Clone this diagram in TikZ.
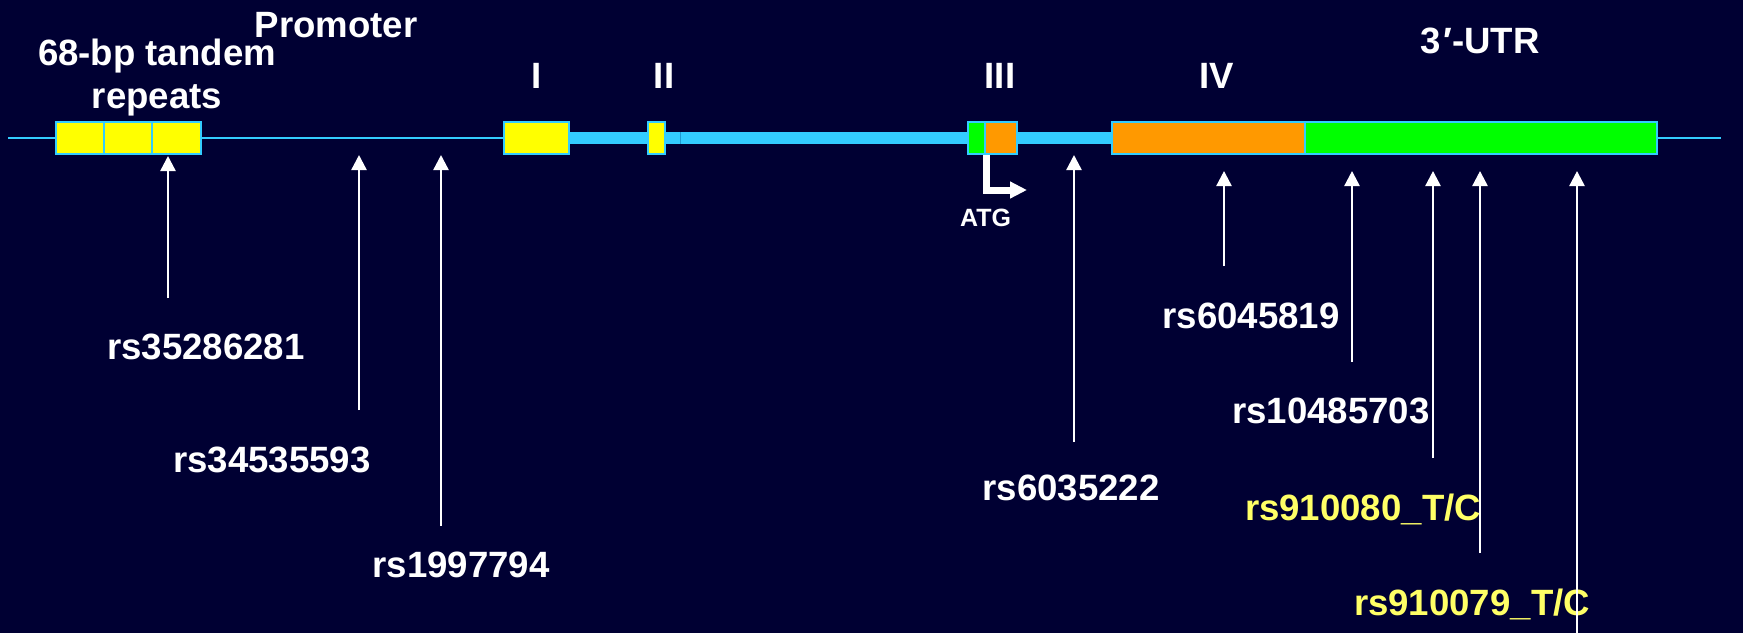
\documentclass[tikz,border=0pt]{standalone}
\usepackage{fontspec}
\setmainfont{Liberation Sans}
\usetikzlibrary{arrows.meta}
\definecolor{bg}{HTML}{000033}
\definecolor{dna}{HTML}{33CCFF}
\definecolor{exy}{HTML}{FFFF00}
\definecolor{exg}{HTML}{00FF00}
\definecolor{exo}{HTML}{FF9900}
\definecolor{snpy}{HTML}{FFFF66}
\definecolor{tickc}{HTML}{1F9AD0}
\begin{document}
\begin{tikzpicture}[x=0.5pt,y=-0.5pt,
  lbl/.style={text=white,font=\bfseries\fontsize{18.3}{21.5}\selectfont,inner sep=0pt,anchor=base},
  ylbl/.style={lbl,text=snpy},
  exonbox/.style={draw=dna,line width=1.25pt},
  snp/.style={draw=white,line width=1.2pt,-{Triangle[length=7.5pt,width=7.5pt]}},
  atgarrow/.style={draw=white,line width=3.5pt,-{Triangle[length=8.5pt,width=8pt]}},
]
\fill[bg] (0,0) rectangle (1743,633);
\useasboundingbox (0,0) rectangle (1743,633);
% backbone
\draw[dna,line width=1pt] (8,138.3) -- (1721,138.3);
\fill[dna] (569,132.4) rectangle (1112,144.3);
\draw[tickc,line width=0.5pt] (680,132.4) -- (680,144.3);
% tandem repeats
\draw[exonbox,fill=exy] (56,122) rectangle (201,154);
\draw[dna,line width=1pt] (104,122) -- (104,154) (152,122) -- (152,154);
% exon I, II
\draw[exonbox,fill=exy] (504,122) rectangle (569,154);
\draw[exonbox,fill=exy] (648,122) rectangle (665,154);
% exon III
\fill[exg] (968,122) rectangle (985,154);
\fill[exo] (985,122) rectangle (1017,154);
\draw[exonbox] (968,122) rectangle (1017,154);
\draw[dna,line width=1pt] (985,122) -- (985,154);
% exon IV + UTR
\fill[exo] (1112,122) rectangle (1305,154);
\fill[exg] (1305,122) rectangle (1657,154);
\draw[exonbox] (1112,122) rectangle (1657,154);
\draw[dna,line width=1pt] (1305,122) -- (1305,154);
% ATG arrow
\coordinate (atgS) at (986,155);
\coordinate (atgC) at (986,190);
\coordinate (atgE) at (1027,190);
\draw[atgarrow] (atgS) -- (atgC) -- (atgE);
\node[lbl,font=\bfseries\fontsize{12.5}{15}\selectfont] (atg) at (985.5,226) {ATG};
% region labels
\node[lbl] (prom) at (336,37) {Promoter};
\node[lbl,align=center,anchor=north] (tandem) at (157,39) {68-bp tandem\\repeats};
\node[lbl] (e1) at (537,88) {I};
\node[lbl] (e2) at (664,88) {II};
\node[lbl] (e3) at (1000,88) {III};
\node[lbl] (e4) at (1217,88) {IV};
\node[lbl] (utr) at (1480,53) {3\kern1.5pt′-UTR};
% SNP labels
\node[lbl] (s1) at (206,359) {rs35286281};
\node[lbl] (s2) at (272,472) {rs34535593};
\node[lbl] (s3) at (461,577) {rs1997794};
\node[lbl] (s4) at (1071,500) {rs6035222};
\node[lbl] (s5) at (1251,328) {rs6045819};
\node[lbl] (s6) at (1331,423) {rs10485703};
\node[ylbl] (s7) at (1363,520) {rs910080\_T/C};
\node[ylbl] (s8) at (1472,615) {rs910079\_T/C};
% SNP arrows
\coordinate (t1) at (168,298); \coordinate (h1) at (168,156);
\coordinate (t2) at (359,410); \coordinate (h2) at (359,155);
\coordinate (t3) at (441,526); \coordinate (h3) at (441,155);
\coordinate (t4) at (1074,442); \coordinate (h4) at (1074,155);
\coordinate (t5) at (1224,266); \coordinate (h5) at (1224,171);
\coordinate (t6) at (1352,362); \coordinate (h6) at (1352,171);
\coordinate (t7) at (1433,458); \coordinate (h7) at (1433,171);
\coordinate (t8) at (1480,553); \coordinate (h8) at (1480,171);
\coordinate (t9) at (1577,633); \coordinate (h9) at (1577,171);
\foreach \i in {1,...,9} {\draw[snp] (t\i) -- (h\i);}
\end{tikzpicture}
\end{document}
